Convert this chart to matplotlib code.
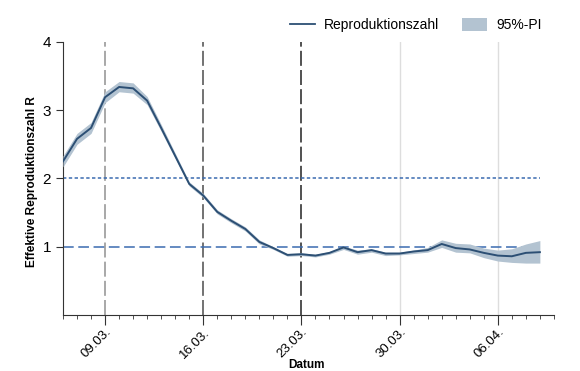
'''
Effektive Reproduktionszahl R mit 95%-Prädiktionsintervall
'''
import matplotlib
matplotlib.use('Agg')
import matplotlib.dates as mdates
import pandas as pd
from matplotlib import pyplot as plt
from matplotlib.patches import Patch
from matplotlib.lines import Line2D

plt.rcParams['font.family'] = ['Liberation Sans', 'DejaVu Sans']

# daily values 06.03. - 09.04.
dates = pd.date_range('2020-03-06', '2020-04-09', freq='D')
r_value = [2.25, 2.58, 2.74, 3.19, 3.34, 3.32, 3.14, 2.74, 2.33, 1.92,
           1.75, 1.51, 1.38, 1.26, 1.07, 0.98, 0.88, 0.89, 0.87, 0.91,
           0.99, 0.92, 0.95, 0.90, 0.90, 0.93, 0.95, 1.04, 0.98, 0.96,
           0.91, 0.87, 0.86, 0.91, 0.92]
r_upper = [2.33, 2.66, 2.82, 3.27, 3.42, 3.40, 3.20, 2.79, 2.37, 1.95,
           1.78, 1.54, 1.41, 1.29, 1.10, 1.00, 0.90, 0.91, 0.89, 0.93,
           1.01, 0.95, 0.97, 0.92, 0.92, 0.95, 0.99, 1.10, 1.05, 1.04,
           0.98, 0.95, 0.97, 1.04, 1.09]
r_lower = [2.17, 2.50, 2.66, 3.11, 3.27, 3.25, 3.08, 2.69, 2.29, 1.89,
           1.72, 1.48, 1.35, 1.23, 1.04, 0.96, 0.86, 0.87, 0.85, 0.89,
           0.96, 0.89, 0.92, 0.87, 0.88, 0.90, 0.92, 0.99, 0.92, 0.91,
           0.84, 0.79, 0.77, 0.76, 0.76]

# marked dates (dashed) and plain grid dates
event_dates = pd.to_datetime(['2020-03-09', '2020-03-16', '2020-03-23'])
event_colors = ['#999999', '#5a5a5a', '#333333']
grid_dates = pd.to_datetime(['2020-03-30', '2020-04-06'])
ref_levels = [2, 1]
ref_styles = [(0, (2.2, 1.6)), (0, (7, 3))]

line_color = '#2c4f74'
band_color = '#b3c3d1'
ref_color = '#3a6bb0'

fig = plt.figure(figsize=(5.8, 3.71), dpi=100)
ax = fig.add_axes([0.1086, 0.151, 0.8464, 0.736])

for d in grid_dates:
    ax.axvline(d, color='#dddddd', lw=1.0, zorder=0)
for d, c in zip(event_dates, event_colors):
    ax.axvline(d, color=c, lw=1.2, ls=(0, (9, 2.5)), zorder=1)
for lev, st in zip(ref_levels, ref_styles):
    ax.plot([dates[0], dates[-1]], [lev, lev], color=ref_color, lw=1.1,
            ls=st, zorder=2)

ax.fill_between(dates, r_lower, r_upper, color=band_color, lw=0, zorder=3)
ax.plot(dates, r_value, color=line_color, lw=1.4, zorder=4)

ax.set_xlim(pd.Timestamp('2020-03-06'), pd.Timestamp('2020-04-10'))
ax.set_ylim(0, 4)
ax.set_yticks([1, 2, 3, 4])
ax.tick_params(axis='y', labelsize=11, length=5, color='#333333')

ax.xaxis.set_major_locator(mdates.WeekdayLocator(byweekday=mdates.MO))
ax.xaxis.set_minor_locator(mdates.DayLocator())
ax.xaxis.set_major_formatter(mdates.DateFormatter('%d.%m.'))
ax.tick_params(axis='x', which='major', length=7, labelsize=9.5,
               color='#333333', pad=1)
ax.tick_params(axis='x', which='minor', length=3, color='#333333')
for lbl in ax.get_xticklabels():
    lbl.set_rotation(45)
    lbl.set_ha('right')
    lbl.set_rotation_mode('anchor')

for side in ['top', 'right']:
    ax.spines[side].set_visible(False)
for side in ['left', 'bottom']:
    ax.spines[side].set_color('#333333')

ax.set_ylabel('Effektive Reproduktionszahl R', fontsize=8.5,
              fontweight='bold')
ax.yaxis.set_label_coords(-0.051, 0.49)
ax.set_xlabel('Datum', fontsize=8.5, fontweight='bold')
ax.xaxis.set_label_coords(0.497, -0.16)

handles = [Line2D([], [], color=line_color, lw=1.3),
           Patch(facecolor=band_color, edgecolor='none')]
fig.legend(handles, ['Reproduktionszahl', '95%-PI'], ncol=2,
           loc='upper right', bbox_to_anchor=(0.955, 0.985), frameon=False,
           fontsize=10, handlelength=1.8, handleheight=1.1,
           handletextpad=0.65, columnspacing=1.65)

fig.savefig('out.png', dpi=100)
